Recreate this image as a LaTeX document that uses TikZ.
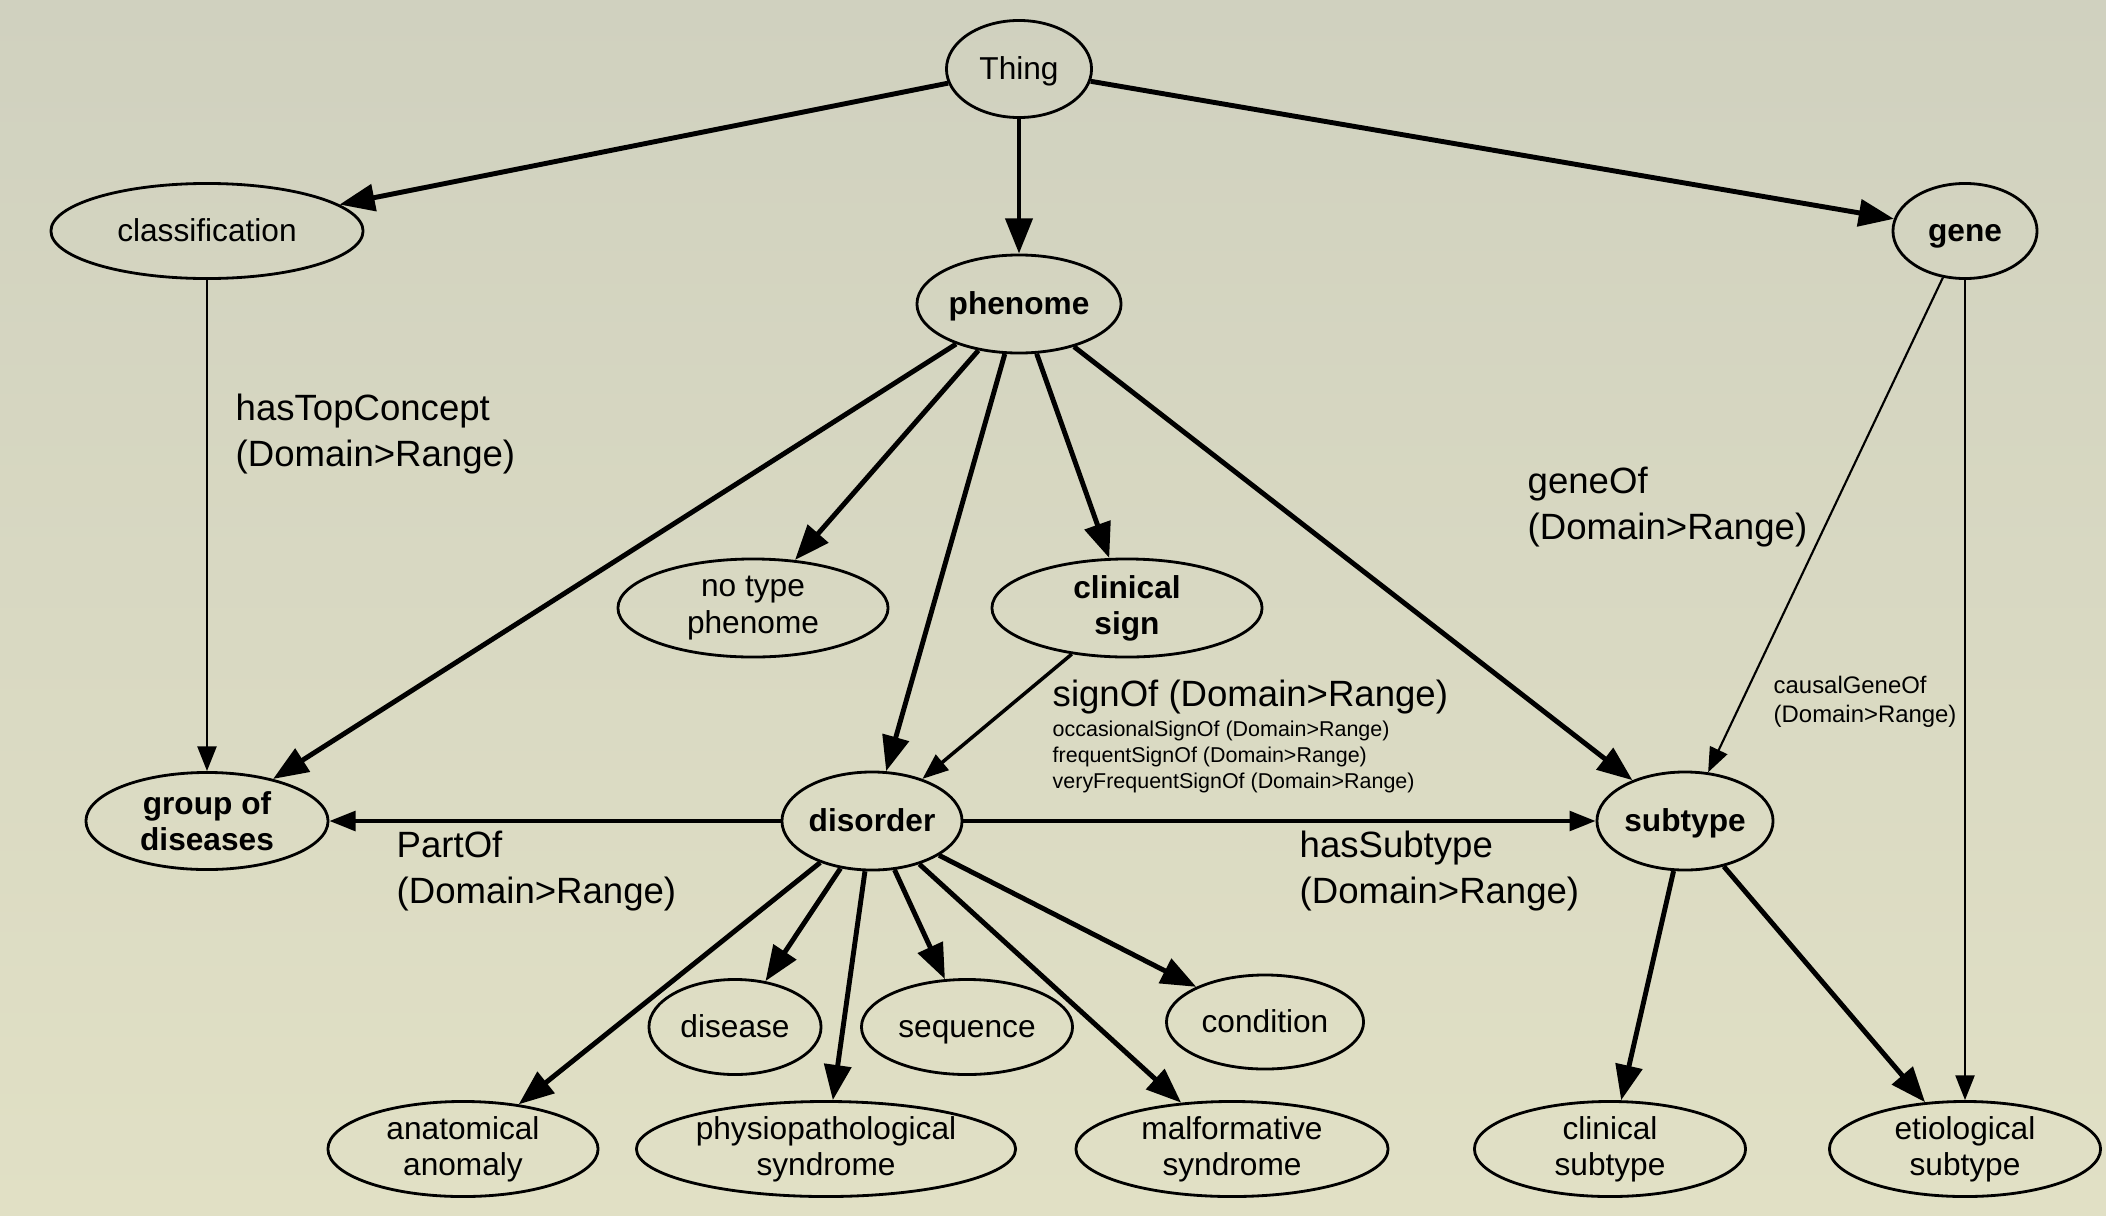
\documentclass[tikz,border=0pt]{standalone}
\usepackage{fontspec}
\setmainfont{Liberation Sans}
\usetikzlibrary{shapes.geometric,arrows.meta}
\definecolor{bgtop}{RGB}{208,209,191}
\definecolor{bgbot}{RGB}{225,224,197}
\begin{document}
\begin{tikzpicture}[x=0.01cm, y=-0.01cm, line join=round,
		cls/.style={ellipse, draw, line width=0.8pt, inner sep=0pt, align=center, font=\fontsize{9}{10.3}\selectfont},
		key/.style={cls, font=\fontsize{9}{10.3}\selectfont\bfseries},
		one/.style={text height=1.5ex, text depth=.32ex},
		thk/.style={line width=1.4pt, -{Triangle[length=10pt,width=7.6pt]}},
		mid/.style={line width=1pt, -{Triangle[length=7.4pt,width=5.6pt]}},
		thn/.style={line width=0.6pt, -{Triangle[length=7pt,width=5.4pt]}},
		lbl/.style={anchor=west, align=left, inner sep=0pt, font=\fontsize{10.4}{13}\selectfont},
		sml/.style={anchor=west, align=left, inner sep=0pt, font=\fontsize{6.8}{8.3}\selectfont}]
	\useasboundingbox (0,0) rectangle (2106,1215);
	\shade[top color=bgtop, bottom color=bgbot] (0,0) rectangle (2106,1215);
	\foreach \n/\x/\y/\w/\h/\t in {thing/1019/69/1.45/.97/Thing, classif/207/231/3.12/.95/classification,
		disease/735/1027/1.72/.95/disease, sequence/967/1027/2.11/.95/sequence,
		condition/1265/1022/1.97/.94/condition}
		\node[cls, one, minimum width=\w cm, minimum height=\h cm] (\n) at (\x,\y) {\t};
	\foreach \n/\x/\y/\w/\h/\t in {notype/753/608/2.70/.98/{no type\\phenome},
		anatom/463/1149/2.70/.95/{anatomical\\anomaly}, physio/826/1149/3.79/.95/{physiopathological\\syndrome},
		malform/1232/1149/3.12/.95/{malformative\\syndrome}, clinsub/1610/1149/2.71/.95/{clinical\\subtype},
		etiosub/1965/1149/2.71/.95/{etiological\\subtype}}
		\node[cls, minimum width=\w cm, minimum height=\h cm] (\n) at (\x,\y) {\t};
	\foreach \n/\x/\y/\w/\h/\t in {phenome/1019/304/2.04/.98/phenome, gene/1965/231/1.44/.95/gene,
		disorder/872/821/1.80/.98/disorder, subtype/1685/821/1.76/.98/subtype}
		\node[key, one, minimum width=\w cm, minimum height=\h cm] (\n) at (\x,\y) {\t};
	\foreach \n/\x/\y/\w/\h/\t in {clinsign/1127/608/2.70/.98/{clinical\\sign}, group/207/821/2.42/.97/{group of\\diseases}}
		\node[key, minimum width=\w cm, minimum height=\h cm] (\n) at (\x,\y) {\t};
	\foreach \a/\b in {thing/classif, thing/phenome, thing/gene, phenome/group, phenome/notype,
		phenome/disorder, phenome/clinsign, phenome/subtype, disorder/anatom, disorder/disease,
		disorder/physio, disorder/sequence, disorder/malform, disorder/condition,
		subtype/clinsub, subtype/etiosub}
		\draw[thk] (\a) -- (\b);
	\foreach \a/\b in {clinsign/disorder, disorder/group, disorder/subtype} \draw[mid] (\a) -- (\b);
	\foreach \a/\b in {classif/group, gene/subtype, gene/etiosub} \draw[thn] (\a) -- (\b);
	\node[lbl] (topconcept) at (235,434) {hasTopConcept\\(Domain>Range)};
	\node[lbl] (geneof) at (1527,507) {geneOf\\(Domain>Range)};
	\node[sml] (causal) at (1773,702) {causalGeneOf\\(Domain>Range)};
	\node[lbl] (signof) at (1052,697) {signOf (Domain>Range)};
	\node[sml, font=\fontsize{6.1}{7.4}\selectfont] (signsub) at (1052,757)
		{occasionalSignOf (Domain>Range)\\frequentSignOf (Domain>Range)\\veryFrequentSignOf (Domain>Range)};
	\node[lbl] (partof) at (396,871) {PartOf\\(Domain>Range)};
	\node[lbl] (hassub) at (1299,871) {hasSubtype\\(Domain>Range)};
\end{tikzpicture}
\end{document}
